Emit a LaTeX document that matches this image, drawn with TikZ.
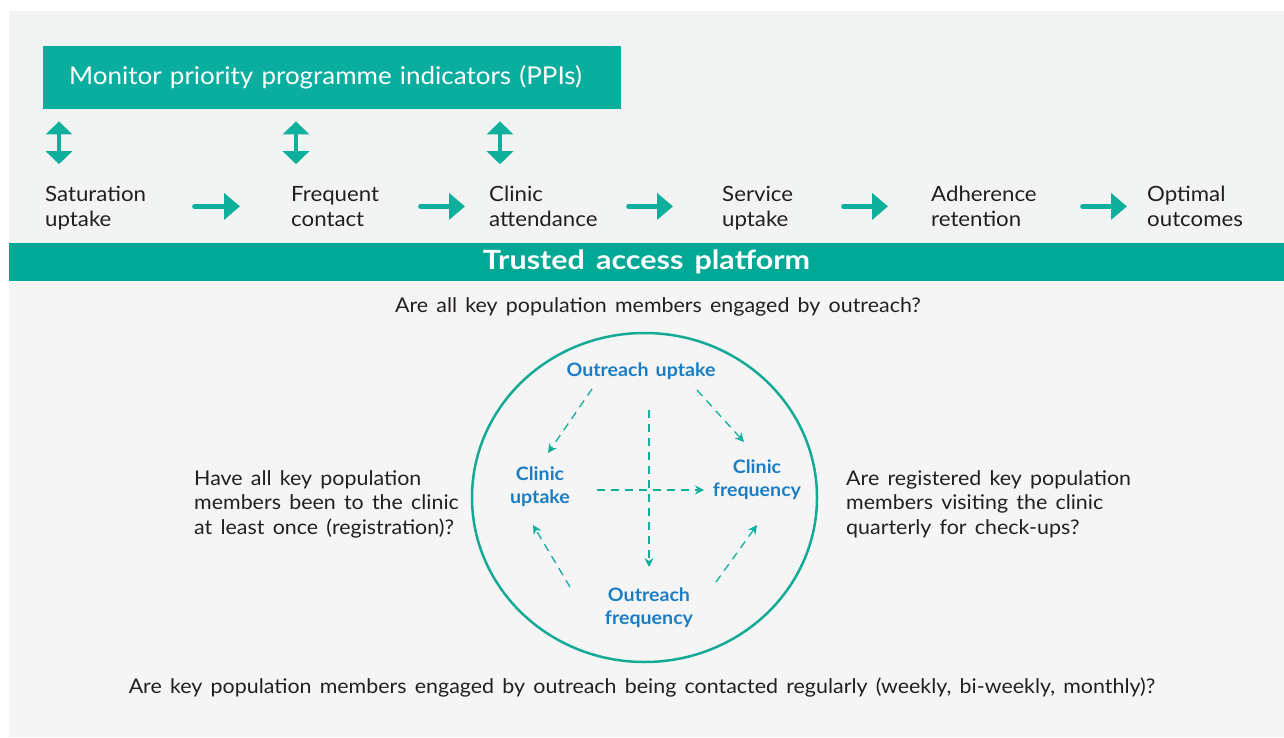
\documentclass[tikz,border=0pt]{standalone}
\usepackage{fontspec}
\setmainfont{Lato}[FakeStretch=1.06, WordSpace=1.5]
\newfontfamily\bandfont{Lato}[FakeStretch=1.15, WordSpace=1.5]
\usetikzlibrary{arrows.meta}

\definecolor{boxteal}{HTML}{09AE9F}
\definecolor{bandteal}{HTML}{00A896}
\definecolor{arrowteal}{HTML}{0FAF9D}
\definecolor{ringteal}{HTML}{14AA95}
\definecolor{labelblue}{HTML}{1B7DC4}
\definecolor{ink}{HTML}{231F20}
\definecolor{paneltop}{HTML}{F2F3F3}
\definecolor{panelbot}{HTML}{F5F5F5}

\begin{document}
\begin{tikzpicture}[x=1pt, y=-1pt,
    stage/.style={anchor=north west, align=left, inner sep=0pt, text width=120pt, text=ink, font=\fontsize{21}{25}\selectfont,
        execute at begin node=\strut, execute at end node=\strut},
    question/.style={align=left, inner sep=0pt, text=ink, font=\fontsize{20.2}{24.5}\selectfont},
    cyclenode/.style={align=center, inner sep=0pt, text=labelblue, font=\bfseries\fontsize{18.5}{23}\selectfont},
    flow/.style={-{Triangle[length=16pt, width=26pt]}, line width=4.5pt, line cap=round, draw=arrowteal},
    updown/.style={{Triangle[length=13pt, width=26pt]}-{Triangle[length=13pt, width=26pt]}, line width=4pt, draw=arrowteal},
    dashlink/.style={-{Stealth[length=9pt, width=9pt]}, line width=1.3pt, draw=arrowteal, dash pattern=on 8pt off 6pt}
]
    % background panels
    \fill[white] (0,0) rectangle (1284,738);
    \fill[paneltop] (9,11) rectangle (1284,243);
    \fill[panelbot] (9,243) rectangle (1284,737);

    % top header and stages
    \node[anchor=north west, fill=boxteal, minimum height=63pt, text width=526pt, inner xsep=26pt, inner ysep=0pt, align=left, text=white, font=\fontsize{24.5}{28}\selectfont] (ppi) at (43,46) {Monitor priority programme indicators (PPIs)};

    \node[stage] (sat) at (45,184.2) {Saturation\\uptake};
    \node[stage] (freq) at (291,184.2) {Frequent\\contact};
    \node[stage] (clinic) at (489,184.2) {Clinic\\attendance};
    \node[stage] (service) at (722,184.2) {Service\\uptake};
    \node[stage] (adher) at (931,184.2) {Adherence\\retention};
    \node[stage] (optimal) at (1147,184.2) {Optimal\\outcomes};

    \draw[flow, shorten <=29pt, shorten >=51pt] ([yshift=3pt]sat.east) -- ([yshift=3pt]freq.west);
    \draw[flow, shorten <=9pt, shorten >=24pt] ([yshift=3pt]freq.east) -- ([yshift=3pt]clinic.west);
    \draw[flow, shorten <=19pt, shorten >=49pt] ([yshift=3pt]clinic.east) -- ([yshift=3pt]service.west);
    \draw[flow, shorten <=1pt, shorten >=43pt] ([yshift=3pt]service.east) -- ([yshift=3pt]adher.west);
    \draw[flow, shorten <=31pt, shorten >=20pt] ([yshift=3pt]adher.east) -- ([yshift=3pt]optimal.west);

    \draw[updown, shorten <=12pt, shorten >=20pt] ([xshift=14pt]sat.north west |- ppi.south) -- ([xshift=14pt]sat.north west);
    \draw[updown, shorten <=12pt, shorten >=20pt] ([xshift=5pt]freq.north west |- ppi.south) -- ([xshift=5pt]freq.north west);
    \draw[updown, shorten <=12pt, shorten >=20pt] ([xshift=11pt]clinic.north west |- ppi.south) -- ([xshift=11pt]clinic.north west);

    % platform band
    \node[fill=bandteal, minimum width=1275pt, minimum height=38pt, inner sep=0pt, text=white, font=\bandfont\bfseries\fontsize{26.5}{30}\selectfont] (platform) at (646.5,262) {Trusted access platform};

    % questions
    \node[question] (qtop) at (658,307) {Are all key population members engaged by outreach?};
    \node[question, anchor=north west] (qleft) at (194,470) {Have all key population\\members been to the clinic\\at least once (registration)?};
    \node[question, anchor=north west] (qright) at (846,470) {Are registered key population\\members visiting the clinic\\quarterly for check-ups?};
    \node[question] (qbottom) at (642,688) {Are key population members engaged by outreach being contacted regularly (weekly, bi-weekly, monthly)?};

    % cycle
    \coordinate (hub) at (644.5,497.5);
    \draw[ringteal, line width=2.5pt] (hub) ellipse [x radius=172.5, y radius=164.5];

    \node[cyclenode] (ou) at (641,371.5) {Outreach uptake};
    \node[cyclenode] (cu) at (540,486.5) {Clinic\\uptake};
    \node[cyclenode] (cf) at (757,479.5) {Clinic\\frequency};
    \node[cyclenode] (of) at (649,607.5) {Outreach\\frequency};

    \draw[dashlink] ([xshift=-49pt, yshift=-17.5pt]ou.center) -- ([xshift=8pt, yshift=33.5pt]cu.center);
    \draw[dashlink] ([xshift=56pt, yshift=-18.5pt]ou.center) -- ([xshift=-13pt, yshift=37.5pt]cf.center);
    \draw[dashlink] ([xshift=8pt, yshift=-38.5pt]ou.center) -- ([yshift=40.5pt]of.center);
    \draw[dashlink] ([xshift=57pt, yshift=-3.5pt]cu.center) -- ([xshift=-53pt, yshift=-10.5pt]cf.center);
    \draw[dashlink] ([xshift=-79pt, yshift=20.5pt]of.center) -- ([xshift=-7pt, yshift=-38.5pt]cu.center);
    \draw[dashlink] ([xshift=67pt, yshift=25.5pt]of.center) -- ([yshift=-45.5pt]cf.center);
\end{tikzpicture}
\end{document}
